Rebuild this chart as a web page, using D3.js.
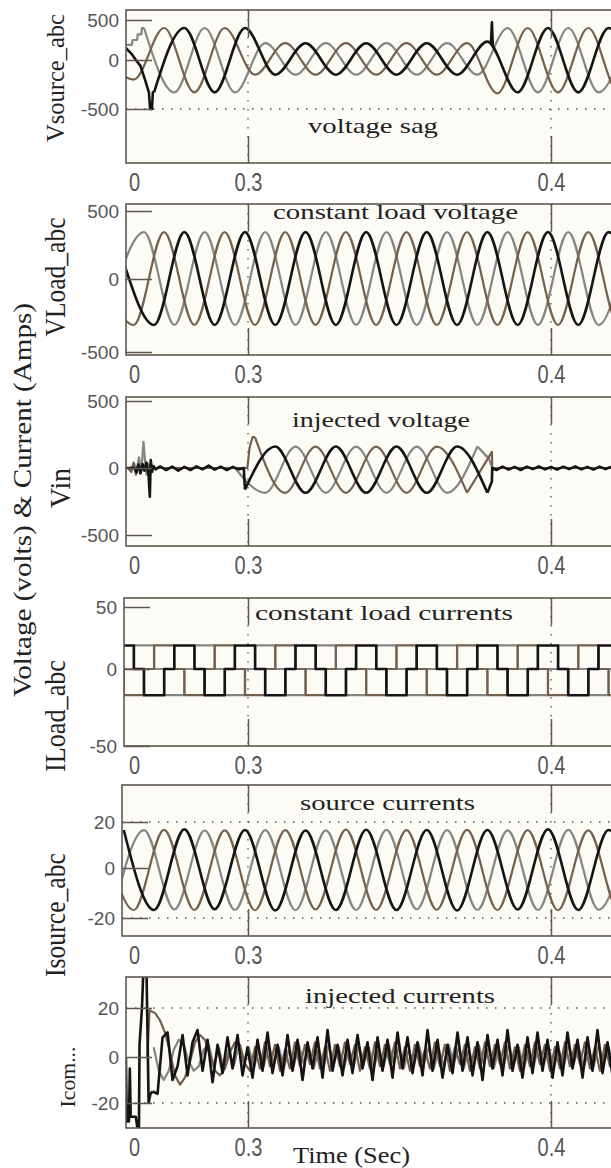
<!DOCTYPE html>
<html>
<head>
<meta charset="utf-8">
<script src="https://cdn.jsdelivr.net/npm/d3@7"></script>
<style>
  body { margin: 0; background: #fff; }
  svg { display: block; }
</style>
</head>
<body>
<script>
// ---- x axis (time, s) ----
var xTickValues = [0.2624, 0.3, 0.4];
var xTickLabels = ["0", "0.3", "0.4"];
var xGrid = [0.3, 0.4];

// ---- y tick values ----
var voltTicks = [-500, 0, 500];
var loadTicks = [-50, 0, 50];
var currTicks = [-20, 0, 20];

// three-phase sines: peak/trough values every half cycle,
// first extremum of phase a (black), b (grey), c (brown)
var halfCycle = 0.01;
var sineStart = [0.259, 0.2557, 0.2523];

// Vsource_abc (V) - sag between 0.3 and ~0.38 s
var vSourceA = [null, -330, 400, -330, 400, -150, 210, -150, 210, -150, 210, -150, 230, -330, 400, -330, 400, -330];
var vSourceB = [null, 400, -330, 400, -330, 210, -150, 210, -150, 210, -150, 210, -150, 400, -330, 400, -330, 400];
var vSourceC = [60, -200, 400, -330, 400, -150, 210, -150, 210, -150, 210, -150, 210, -340, 400, -330, 400, -330, 400];
var vSourceStartA = [[0.2597, 150], [0.2615, 80], [0.263, 0], [0.2645, -60], [0.266, -200], [0.2673, -330], [0.2677, -500], [0.2683, -500], [0.2686, -330], [0.269, -330]];
var vSourceStartB = [[0.2597, 190], [0.2617, 190], [0.2619, 250], [0.2634, 250], [0.2636, 320], [0.2648, 320], [0.265, 400], [0.2657, 400]];
var vSourceRecoverA = [[0.3802, 215], [0.3805, 470], [0.3808, 170]];

// VLoad_abc (V)
var vLoadA = [120, -315, 345, -315, 345, -315, 345, -315, 345, -315, 345, -315, 345, -315, 345, -315, 345, -315];
var vLoadB = [-100, 345, -315, 345, -315, 345, -315, 345, -315, 345, -315, 345, -315, 345, -315, 345, -315, 345];
var vLoadC = [0, -315, 345, -315, 345, -315, 345, -315, 345, -315, 345, -315, 345, -315, 345, -315, 345, -315, 345];

// Vin (V) - injected only during the sag
var vInA = [null, null, null, null, -160, 160, -185, 160, -185, 160, -185, 160, -185, null, null, null, null, null];
var vInB = [null, null, null, null, 0, -185, 160, -185, 160, -185, 160, -185, 160, null, null, null, null, null];
var vInC = [null, null, null, null, null, 230, -185, 160, -185, 160, -185, 160, -185, null, null, null, null, null, null];
var vInRestA = [[0.2597, 0], [0.2625, 0], [0.2632, -30], [0.2638, 25], [0.2645, -40], [0.2652, 30], [0.2658, -20], [0.2665, 40], [0.2672, -60], [0.2676, -215], [0.2679, 60], [0.2683, -30], [0.2688, 15], [0.2695, -10], [0.271, 12], [0.273, -15], [0.275, 10], [0.277, -20], [0.279, 8], [0.281, -15], [0.283, 12], [0.285, -10], [0.287, 18], [0.289, -12], [0.291, 10], [0.293, -15], [0.295, 8], [0.297, -10], [0.2986, 0], [0.299, -160]];
var vInEndA = [[0.379, -185], [0.3805, -100], [0.3806, 0], [0.382, -15], [0.384, 10], [0.386, -12], [0.388, 8], [0.39, -15], [0.392, 10], [0.394, -8], [0.396, 12], [0.398, -10], [0.4, 8], [0.402, -12], [0.404, 10], [0.406, -8], [0.408, 12], [0.41, -10], [0.412, 8], [0.414, -12], [0.416, 10], [0.418, -8], [0.42, 10], [0.4211, 0]];
var vInRestB = [[0.2597, 0], [0.2615, 0], [0.2625, 30], [0.2632, -40], [0.264, 80], [0.2648, -20], [0.2655, 195], [0.266, 60], [0.2665, -50], [0.2672, 30], [0.268, 0], [0.2957, 0]];
var vInEndB = [[0.3757, 160], [0.3795, 70], [0.3806, 0], [0.4211, 0]];
var vInRestC = [[0.2597, 0], [0.2605, 0], [0.2615, -30], [0.2622, 40], [0.263, -50], [0.2638, 30], [0.2645, 0], [0.2998, 0], [0.3005, 150], [0.3015, 230], [0.3023, 230]];
var vInEndC = [[0.3723, -185], [0.3805, 120], [0.3806, 0], [0.4211, 0]];

// ILoad_abc (A): conduction state per 60 degree step (+, 0, -)
var iLoadStart = 0.25567;
var iLoadStep = 0.0033333;
var iLoadLevels = { "+": 19, "0": 0, "-": -17 };
var iLoadA = "++0--0++0--0++0--0++0--0++0--0++0--0++0--0++0--0++";
var iLoadB = "-0++0--0++0--0++0--0++0--0++0--0++0--0++0--0++0--0";
var iLoadC = "0--0++0--0++0--0++0--0++0--0++0--0++0--0++0--0++0-";

// Isource_abc (A)
var iSourceA = [16.5, -16.8, 16.8, -16.5, 16.5, -17, 16.3, -16.8, 16.6, -16.8, 16.5, -17, 16.5, -16.6, 16.8, -16.8, 16.5, -16.8];
var iSourceB = [-16.8, 16.5, -16.6, 16.3, -16.8, 16.5, -16.9, 16.4, -16.8, 16.6, -16.5, 16.5, -16.8, 16.4, -16.8, 16.6, -16.7, 16.5];
var iSourceC = [16.5, -16.8, 16.6, -16.8, 16.4, -16.9, 16.5, -16.6, 16.7, -16.8, 16.5, -16.7, 16.6, -16.8, 16.5, -16.9, 16.4, -16.8, 16.6];

// injected currents (A), sampled every iComStep
var iComStep = 0.00165;
var iComStart = [0.2685, 0.2689, 0.2693];
var iComA = [-15, -16, 8, 10, -10, -4, 9, -8, 6, 11, -6, 7, -11, 5, -7, 8, -5, 9, -8, 4, -9, 7, -6, 10, -7, 5, -8, 9, -6, 7, -10, 6, -5, 8, -9, 11, -6, 5, -8, 7, -7, 9, -5, 6, -10, 8, -6, 7, -9, 10, -5, 8, -7, 6, -8, 11, -6, 7, -9, 5, -7, 10, -6, 8, -8, 6, -10, 9, -5, 7, -8, 11, -6, 5, -9, 8, -7, 10, -6, 7, -9, 6, -8, 10, -5, 7, -9, 8, -6, 11, -7, 6, -8, 4, -6];
var iComB = [4, -6, -10, -6, 3, 7, 5, -2, -6, -4, 3, 5, -4, 4, -5, 3, -4, 5, -3, 4, -5, 3, -4, 5, -3, 4, -5, 3, -4, 5, -3, 4, -5, 3, -4, 5, -3, 4, -5, 3, -4, 5, -3, 4, -5, 3, -4, 5, -3, 4, -5, 3, -4, 5, -3, 4, -5, 3, -4, 5, -3, 4, -5, 3, -4, 5, -3, 4, -5, 3, -4, 5, -3, 4, -5, 3, -4, 5, -3, 4, -5, 3, -4, 5, -3, 4, -5, 3, -4, 5, -3, 4, -5, 3];
var iComC = [18, 15, 10, 2, -8, -12, -9, -2, 6, 9, 7, 1, -6, -8, -5, 2, 6, 5, -3, -6, 4, -5, 6, -4, 5, -6, 3, -5, 6, -4, 5, -3, 6, -5, 4, -6, 5, -4, 6, -3, 5, -6, 4, -5, 6, -4, 5, -3, 6, -5, 4, -6, 5, -4, 3, -5, 6, -4, 5, -6, 4, -3, 5, -6, 4, -5, 6, -4, 5, -3, 6, -5, 4, -6, 5, -4, 6, -3, 5, -6, 4, -5, 6, -4, 5, -3, 6, -5, 4, -6, 5, -4, 6, -5];
var iComStartA = [[0.2597, 0], [0.26, -28], [0.2607, -28], [0.261, -5], [0.2613, -26], [0.263, -26], [0.2637, -33], [0.264, -33], [0.2642, 5], [0.265, 20], [0.2655, 36], [0.2665, 36], [0.2672, -20], [0.2678, -16], [0.2685, -15]];
var iComStartC = [[0.2668, 0], [0.2675, 19], [0.2693, 18]];

// ---- helpers turning the arrays into [t, value] points ----
function extrema(vals, phase) {
  return vals.map(function(v, k) { return [sineStart[phase] + k * halfCycle, v]; });
}
function steps(str) {
  var pts = str.split("").map(function(c, i) { return [iLoadStart + i * iLoadStep, iLoadLevels[c]]; });
  pts.push([iLoadStart + str.length * iLoadStep, pts[pts.length - 1][1]]);
  return pts;
}
function samples(vals, phase) {
  return vals.map(function(v, i) { return [iComStart[phase] + i * iComStep, v]; });
}

var smooth = d3.curveMonotoneX, straight = d3.curveLinear, stepped = d3.curveStepAfter;

// ---- layout ----
var W = 611, H = 1168, boxRight = 620;
var phaseColors = ["#141414", "#858585", "#75604e"];
var frameColor = "#5f5850";
var serif = "'Liberation Serif', 'DejaVu Serif', serif";
var sans = "'Liberation Sans', Arial, sans-serif";

var panels = [
  { top: 10, bottom: 163, left: 126, ticks: voltTicks, tickPix: [109, 60, 20], grid: [-500],
    title: "Vsource_abc", titleX: 64, titleY: 78, titleLen: 128, titleSize: 25,
    note: "voltage sag", noteX: 308, noteY: 133, noteLen: 130,
    lines: [
      { p: 1, pts: extrema(vSourceB, 1), c: smooth }, { p: 1, pts: vSourceStartB, c: straight },
      { p: 2, pts: extrema(vSourceC, 2), c: smooth },
      { p: 0, pts: extrema(vSourceA, 0), c: smooth }, { p: 0, pts: vSourceStartA, c: straight },
      { p: 0, pts: vSourceRecoverA, c: straight }
    ] },
  { top: 204, bottom: 355, left: 126, ticks: voltTicks, tickPix: [352, 279, 211], grid: [],
    title: "VLoad_abc", titleX: 65, titleY: 277, titleLen: 119, titleSize: 29,
    note: "constant load voltage", noteX: 273, noteY: 219, noteLen: 245,
    lines: [
      { p: 1, pts: extrema(vLoadB, 1), c: smooth },
      { p: 2, pts: extrema(vLoadC, 2), c: smooth },
      { p: 0, pts: extrema(vLoadA, 0), c: smooth }
    ] },
  { top: 397, bottom: 546, left: 126, ticks: voltTicks, tickPix: [535, 468, 401], grid: [],
    title: "Vin", titleX: 70, titleY: 488, titleLen: 40, titleSize: 29,
    note: "injected voltage", noteX: 292, noteY: 427, noteLen: 178,
    lines: [
      { p: 1, pts: extrema(vInB, 1), c: smooth }, { p: 1, pts: vInRestB, c: straight }, { p: 1, pts: vInEndB, c: straight },
      { p: 2, pts: extrema(vInC, 2), c: smooth }, { p: 2, pts: vInRestC, c: straight }, { p: 2, pts: vInEndC, c: straight },
      { p: 0, pts: extrema(vInA, 0), c: smooth }, { p: 0, pts: vInRestA, c: straight }, { p: 0, pts: vInEndA, c: straight }
    ] },
  { top: 598, bottom: 746, left: 124, ticks: loadTicks, tickPix: [746, 669, 607], grid: [],
    title: "ILoad_abc", titleX: 65, titleY: 716, titleLen: 112, titleSize: 29,
    note: "constant load currents", noteX: 255, noteY: 620, noteLen: 258,
    lines: [
      { p: 1, pts: steps(iLoadB), c: stepped },
      { p: 2, pts: steps(iLoadC), c: stepped },
      { p: 0, pts: steps(iLoadA), c: stepped }
    ] },
  { top: 785, bottom: 936, left: 122, ticks: currTicks, tickPix: [918, 868, 822], grid: [-20, 20],
    title: "Isource_abc", titleX: 65, titleY: 915, titleLen: 124, titleSize: 29,
    note: "source currents", noteX: 300, noteY: 810, noteLen: 175,
    lines: [
      { p: 1, pts: extrema(iSourceB, 1), c: smooth },
      { p: 2, pts: extrema(iSourceC, 2), c: smooth },
      { p: 0, pts: extrema(iSourceA, 0), c: smooth }
    ] },
  { top: 977, bottom: 1128, left: 126, ticks: currTicks, tickPix: [1103, 1057, 1008], grid: [-20, 20],
    title: "Icom...", titleX: 75, titleY: 1077, titleLen: 61, titleSize: 21,
    note: "injected currents", noteX: 305, noteY: 1003, noteLen: 190,
    lines: [
      { p: 1, pts: samples(iComB, 1), c: straight },
      { p: 2, pts: samples(iComC, 2), c: straight }, { p: 2, pts: iComStartC, c: straight },
      { p: 0, pts: samples(iComA, 0), c: straight }, { p: 0, pts: iComStartA, c: straight }
    ] }
];

var x = d3.scaleLinear().domain([0.3, 0.4]).range([248, 551]);

var svg = d3.select("body").append("svg")
  .attr("width", W)
  .attr("height", H)
  .style("background", "#fff");

panels.forEach(function(p, i) {
  // piecewise scale matching where the labels sit in the figure
  var y = d3.scaleLinear().domain(p.ticks).range(p.tickPix);
  var g = svg.append("g");

  g.append("rect")
    .attr("x", p.left).attr("y", p.top)
    .attr("width", boxRight - p.left).attr("height", p.bottom - p.top)
    .attr("fill", "#fcfbf6");

  g.append("clipPath").attr("id", "clip" + i)
    .append("rect")
    .attr("x", p.left).attr("y", p.top)
    .attr("width", boxRight - p.left).attr("height", p.bottom - p.top);

  // dotted grid
  p.grid.forEach(function(v) {
    g.append("line")
      .attr("x1", p.left).attr("x2", boxRight)
      .attr("y1", y(v)).attr("y2", y(v))
      .attr("stroke", "#555").attr("stroke-width", 1.3)
      .attr("stroke-dasharray", "1.5,7.5");
  });
  xGrid.forEach(function(t) {
    g.append("line")
      .attr("x1", x(t)).attr("x2", x(t))
      .attr("y1", p.top).attr("y2", p.bottom)
      .attr("stroke", "#555").attr("stroke-width", 1.3)
      .attr("stroke-dasharray", "1.5,7.5");
  });

  // traces
  var plot = g.append("g").attr("clip-path", "url(#clip" + i + ")");
  p.lines.forEach(function(l) {
    var line = d3.line()
      .defined(function(d) { return d[1] != null; })
      .x(function(d) { return x(d[0]); })
      .y(function(d) { return y(d[1]); })
      .curve(l.c);
    plot.append("path")
      .datum(l.pts)
      .attr("d", line)
      .attr("fill", "none")
      .attr("stroke", phaseColors[l.p])
      .attr("stroke-width", l.p === 0 ? 2.6 : 2.2)
      .attr("stroke-linejoin", "round");
  });

  // frame
  g.append("rect")
    .attr("x", p.left).attr("y", p.top)
    .attr("width", boxRight - p.left).attr("height", p.bottom - p.top)
    .attr("fill", "none").attr("stroke", frameColor).attr("stroke-width", 1.6);

  // y axis: long inward ticks + labels
  var ya = g.append("g")
    .attr("transform", "translate(" + p.left + ",0)")
    .call(d3.axisLeft(y).tickValues(p.ticks).tickSize(-26).tickPadding(7)
      .tickFormat(function(d) { return String(d); }));
  ya.select(".domain").remove();
  ya.selectAll("line").attr("stroke", frameColor).attr("stroke-width", 1.5);
  ya.selectAll("text")
    .attr("font-family", sans).attr("font-size", 19).attr("fill", "#555");

  // x ticks at top and bottom
  var xt = g.append("g")
    .attr("transform", "translate(0," + p.top + ")")
    .call(d3.axisTop(x).tickValues(xGrid).tickSize(-27).tickFormat(""));
  var xb = g.append("g")
    .attr("transform", "translate(0," + p.bottom + ")")
    .call(d3.axisBottom(x).tickValues(xGrid).tickSize(-27).tickFormat(""));
  [xt, xb].forEach(function(a) {
    a.select(".domain").remove();
    a.selectAll("line").attr("stroke", frameColor).attr("stroke-width", 1.5);
  });

  // x labels, tall and narrow as in the figure
  var xl = g.append("g")
    .attr("transform", "translate(0," + p.bottom + ")")
    .call(d3.axisBottom(x).tickValues(xTickValues).tickSize(0)
      .tickFormat(function(d, k) { return xTickLabels[k]; }));
  xl.select(".domain").remove();
  xl.selectAll("text")
    .attr("y", 0).attr("dy", null)
    .attr("transform", "translate(0,28) scale(1,1.28)")
    .attr("font-family", sans).attr("font-size", 20).attr("fill", "#555");

  // panel title
  g.append("text")
    .attr("transform", "translate(" + p.titleX + "," + p.titleY + ") rotate(-90)")
    .attr("text-anchor", "middle")
    .attr("font-family", serif).attr("font-size", p.titleSize).attr("fill", "#222")
    .attr("textLength", p.titleLen).attr("lengthAdjust", "spacingAndGlyphs")
    .text(p.title);

  // annotation
  g.append("text")
    .attr("x", p.noteX).attr("y", p.noteY)
    .attr("font-family", serif).attr("font-size", 22).attr("fill", "#222")
    .attr("textLength", p.noteLen).attr("lengthAdjust", "spacingAndGlyphs")
    .text(p.note);
});

// common labels
svg.append("text")
  .attr("transform", "translate(31,500) rotate(-90)")
  .attr("text-anchor", "middle")
  .attr("font-family", serif).attr("font-size", 26).attr("fill", "#222")
  .attr("textLength", 394).attr("lengthAdjust", "spacingAndGlyphs")
  .text("Voltage (volts) & Current (Amps)");

svg.append("text")
  .attr("x", 293).attr("y", 1163)
  .attr("font-family", serif).attr("font-size", 23).attr("fill", "#222")
  .attr("textLength", 117).attr("lengthAdjust", "spacingAndGlyphs")
  .text("Time (Sec)");
</script>
</body>
</html>
